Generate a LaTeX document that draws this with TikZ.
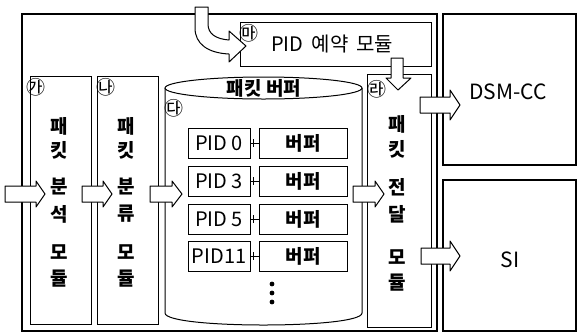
\documentclass[tikz,border=0pt]{standalone}
\usepackage{fontspec}
\setmainfont{Noto Sans CJK KR}
\newfontfamily\kr{Noto Sans CJK KR}
\begin{document}
\begin{tikzpicture}[x=1pt,y=-1pt,
  box/.style={draw=black,line width=1pt},
  rowbox/.style={draw=black,line width=1pt,fill=white,inner sep=0pt,minimum height=30pt,font=\kr\fontsize{20}{20}\selectfont},
  barrow/.style={draw=black,line width=1pt,fill=white,line join=round},
  mchar/.style={font=\kr\bfseries\fontsize{19}{19}\selectfont,inner sep=0pt},
  circ/.style={font=\kr\fontsize{19}{19}\selectfont,inner sep=0pt},
  lab/.style={font=\kr\fontsize{20}{20}\selectfont,inner sep=0pt}]
\useasboundingbox (0,0) rectangle (577,333);
\fill[white] (0,0) rectangle (577,333);
% outer frame and right boxes
\draw[box,line width=1.5pt] (22,14) rectangle (437,331);
\draw[box,line width=1.2pt] (443,14) -- (576,14) -- (576,165) -- (443,165) -- cycle;
\draw[box,line width=1.2pt] (443,180) -- (576,180) -- (576,331) -- (443,331) -- cycle;
% PID reservation module
\draw[box] (240,22) rectangle (431,66);
% modules
\draw[box] (30,76) rectangle (91,324);
\draw[box] (97,76) rectangle (158,324);
\draw[box] (367,74) rectangle (431,327);
% cylinder
\draw[box,fill=white] (165,88) -- (165,313) .. controls (165,329) and (362,329) .. (362,313) -- (362,88);
\draw[box,fill=white] (263.5,88) ellipse [x radius=98.5pt, y radius=11pt];
\node[font=\kr\bfseries\fontsize{19}{19}\selectfont,inner sep=0pt] (bufT) at (264,88) {패킷 버퍼};
% rows
\foreach \i/\y/\t in {0/143/PID 0,1/181/PID 3,2/219/PID 5,3/256/PID11}{
  \node[rowbox,minimum width=62pt] (p\i) at (219,\y) {\t};
  \node[rowbox,minimum width=88pt,font=\kr\bfseries\fontsize{19}{19}\selectfont] (b\i) at (303,\y) {버퍼};
  \draw[line width=1pt] (p\i) -- (b\i);
  \draw[line width=1pt] ([xshift=3pt]p\i.east) ++(0,-4) -- ++(0,8);
}
\foreach \y in {284,293,302}{\fill (272,\y) circle (2.4pt);}
% block arrows
\newcommand\harrow[6]{%
  \draw[barrow] (#1,{#4-#5}) -- (#2,{#4-#5}) -- (#2,{#4-#6}) -- (#3,#4) -- (#2,{#4+#6}) -- (#2,{#4+#5}) -- (#1,{#4+#5}) -- cycle;}
\harrow{5}{36}{45}{194}{8}{13}
\harrow{82}{103}{112}{194}{8}{13}
\harrow{150}{172}{182}{194}{8}{13}
\harrow{353}{375}{384}{194}{8}{13}
\harrow{420}{450}{460}{105}{8}{15}
\harrow{421}{450}{460}{256}{8}{15}
% down arrow
\draw[barrow] (391,58) -- (403,58) -- (403,78) -- (411,78) -- (398,90) -- (386,78) -- (391,78) -- cycle;
% curved arrow
\draw[barrow] (195,7) -- (208,7) -- (208,24) .. controls (208,34) and (216,39) .. (229,40) -- (229,31) -- (246,46) -- (229,62) -- (229,54) .. controls (208,53) and (195,44) .. (195,28) -- cycle;
% labels
\node[lab] (pidres) at (332,44) {PID\hspace{4pt} 예약\hspace{3pt} 모듈};
\node[lab,font=\kr\fontsize{21}{21}\selectfont] (dsm) at (508,92) {DSM-CC};
\node[lab,font=\kr\fontsize{21}{21}\selectfont] (si) at (510,260) {SI};
% circled letters
\node[circ] (c1) at (36,87) {㉮};
\node[circ] (c2) at (106,87) {㉯};
\node[circ] (c3) at (174,108) {㉰};
\node[circ] (c4) at (377,89) {㉱};
\node[circ] (c5) at (249,33) {㉲};
% vertical module texts
\foreach \c/\y in {패/126,킷/150,분/187,석/214,모/252,듈/279}{\node[mchar] at (59,\y) {\c};}
\foreach \c/\y in {패/126,킷/150,분/187,류/214,모/252,듈/279}{\node[mchar] at (126,\y) {\c};}
\foreach \c/\y in {패/124,킷/149,전/187,달/214,모/257,듈/283}{\node[mchar] at (397,\y) {\c};}
\end{tikzpicture}
\end{document}
